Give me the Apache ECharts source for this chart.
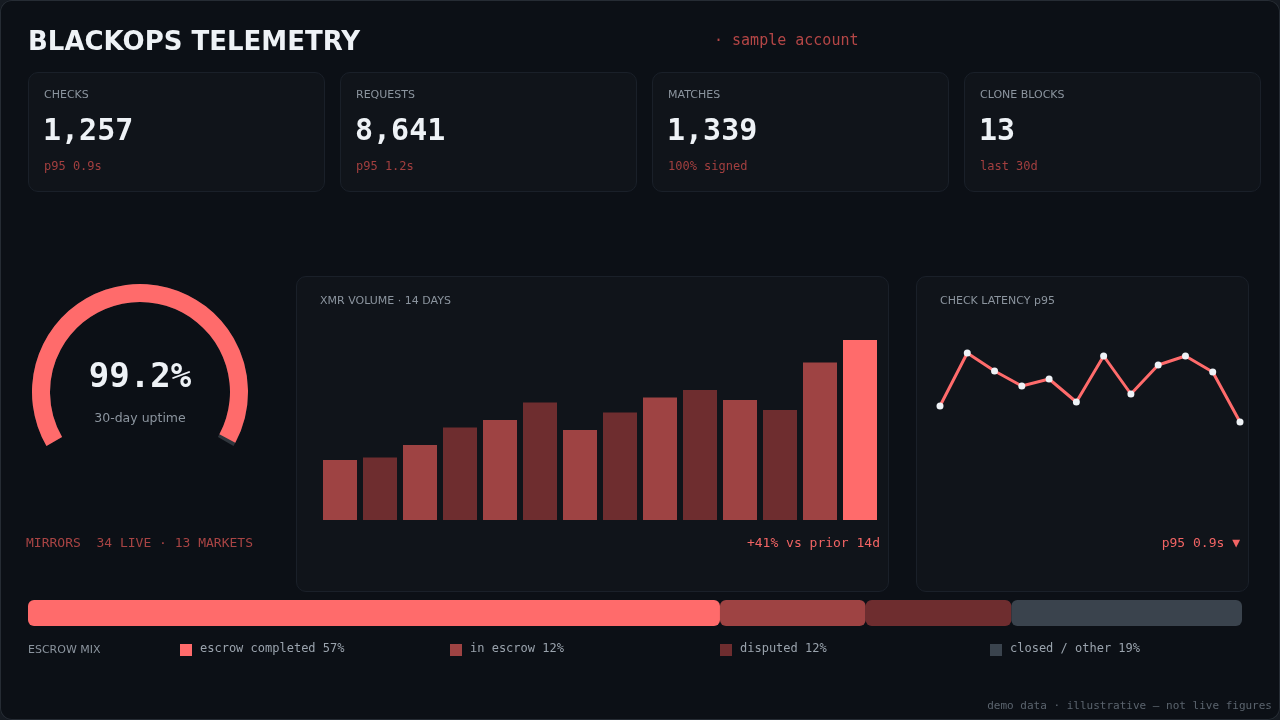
<!DOCTYPE html>
<html lang="en">
<head>
<meta charset="UTF-8">
<title>Blackops Telemetry</title>
<script src="https://cdn.jsdelivr.net/npm/echarts@6/dist/echarts.min.js"></script>
<style>
  html, body { margin:0; padding:0; background:#161b22; }
  #frame { position:absolute; left:0; top:0; width:1280px; height:720px; box-shadow:inset 0 0 0 1px #262c34; border-radius:12px; background:#0c1016; overflow:hidden; }
  .abs { position:absolute; white-space:nowrap; }
  .panel { position:absolute; background:#10141a; border:1px solid #1a2029; border-radius:10px; box-sizing:border-box; }
  .lbl { font-family:"DejaVu Sans", sans-serif; font-size:11px; color:#8b949e; }
  .mono { font-family:"DejaVu Sans Mono", monospace; }
  .kval { font-family:"DejaVu Sans Mono", monospace; font-weight:bold; font-size:30px; color:#eef2f6; }
  .knote { font-family:"DejaVu Sans Mono", monospace; font-size:12px; color:#a23f3f; }
  .sw { position:absolute; width:12px; height:12px; }
  #chart { position:absolute; left:0; top:0; width:1280px; height:720px; z-index:1; }
  .top { z-index:2; }
</style>
</head>
<body>
<div id="frame">
  <div class="abs top" style="left:28px;top:26px;font-family:'DejaVu Sans',sans-serif;font-weight:bold;font-size:26px;color:#eef2f6;">BLACKOPS TELEMETRY</div>
  <div class="abs top mono" style="left:714px;top:31px;font-size:15px;color:#b44646;">· sample account</div>

  <div id="kpis"></div>

  <!-- chart panels -->
  <div class="panel" style="left:296px;top:276px;width:593px;height:316px;"></div>
  <div class="panel" style="left:916px;top:276px;width:333px;height:316px;"></div>

  <div class="abs top lbl" style="left:320px;top:294px;">XMR VOLUME · 14 DAYS</div>
  <div class="abs top lbl" style="left:940px;top:294px;">CHECK LATENCY p95</div>
  <div class="abs top mono" style="right:400px;top:535px;font-size:13px;color:#f26464;">+41% vs prior 14d</div>
  <div class="abs top mono" style="right:40px;top:535px;font-size:13px;color:#f26464;">p95 0.9s ▼</div>
  <div class="abs top mono" style="left:26px;top:535px;font-size:13px;color:#a84444;">MIRRORS&nbsp;&nbsp;34 LIVE · 13 MARKETS</div>

  <div class="abs top lbl" style="left:28px;top:643px;">ESCROW MIX</div>
  <div id="legend"></div>

  <div class="abs top mono" style="right:8px;top:699px;font-size:11px;color:#5b646e;">demo data · illustrative — not live figures</div>

  <div id="chart"></div>
</div>

<script type="text/javascript">
// KPI cards
var kpiLabels = ['CHECKS', 'REQUESTS', 'MATCHES', 'CLONE BLOCKS'];
var kpiValues = ['1,257', '8,641', '1,339', '13'];
var kpiNotes = ['p95 0.9s', 'p95 1.2s', '100% signed', 'last 30d'];

// uptime gauge
var uptime = 99.2;

// 14 day volume
var volumeDays = ['d1','d2','d3','d4','d5','d6','d7','d8','d9','d10','d11','d12','d13','d14'];
var volumeValues = [24, 25, 30, 37, 40, 47, 36, 43, 49, 52, 48, 44, 63, 72];

// latency p95 (seconds)
var latencyPoints = ['1','2','3','4','5','6','7','8','9','10','11','12'];
var latencyValues = [1.14, 1.67, 1.49, 1.34, 1.41, 1.18, 1.64, 1.26, 1.55, 1.64, 1.48, 0.98];

// escrow mix
var escrowNames = ['escrow completed', 'in escrow', 'disputed', 'closed / other'];
var escrowShares = [57, 12, 12, 19];
var escrowColors = ['#ff6b6b', '#9e4343', '#6e2d2f', '#3a434d'];

var RED = '#ff6b6b', RED_MID = '#9e4343', RED_DARK = '#6e2d2f';

// build cards
var kpiHtml = '';
for (var i = 0; i < kpiLabels.length; i++) {
  var x = 28 + i * 312;
  kpiHtml += '<div class="panel" style="left:' + x + 'px;top:72px;width:297px;height:120px;"></div>';
  kpiHtml += '<div class="abs top lbl" style="left:' + (x + 16) + 'px;top:88px;">' + kpiLabels[i] + '</div>';
  kpiHtml += '<div class="abs top kval" style="left:' + (x + 15) + 'px;top:112px;">' + kpiValues[i] + '</div>';
  kpiHtml += '<div class="abs top knote" style="left:' + (x + 16) + 'px;top:159px;">' + kpiNotes[i] + '</div>';
}
document.getElementById('kpis').innerHTML = kpiHtml;

// legend
var legHtml = '';
for (var j = 0; j < escrowNames.length; j++) {
  var lx = 180 + j * 270;
  legHtml += '<div class="sw top" style="left:' + lx + 'px;top:644px;background:' + escrowColors[j] + ';"></div>';
  legHtml += '<div class="abs top mono" style="left:' + (lx + 20) + 'px;top:641px;font-size:12px;color:#9aa3ad;">' + escrowNames[j] + ' ' + escrowShares[j] + '%</div>';
}
document.getElementById('legend').innerHTML = legHtml;

var chart = echarts.init(document.getElementById('chart'), null, {renderer: 'canvas'});

var escrowSeries = escrowShares.map(function (v, k) {
  return {
    type: 'bar', stack: 'mix', xAxisIndex: 2, yAxisIndex: 2,
    barWidth: 26, silent: true,
    itemStyle: {color: escrowColors[k], borderRadius: 6},
    data: [v]
  };
});

var option = {
  backgroundColor: 'transparent',
  animation: false,
  grid: [
    {left: 320, top: 320, width: 560, height: 200},
    {left: 940, top: 320, width: 300, height: 200},
    {left: 28, top: 600, width: 1214, height: 26}
  ],
  xAxis: [
    {gridIndex: 0, type: 'category', data: volumeDays, show: false},
    {gridIndex: 1, type: 'category', data: latencyPoints, boundaryGap: false, show: false},
    {gridIndex: 2, type: 'value', min: 0, max: 100, show: false}
  ],
  yAxis: [
    {gridIndex: 0, type: 'value', min: 0, max: 80, show: false},
    {gridIndex: 1, type: 'value', min: 0, max: 2, show: false},
    {gridIndex: 2, type: 'category', data: ['mix'], show: false}
  ],
  series: [
    {
      type: 'gauge',
      center: [140, 392],
      radius: 108,
      startAngle: 210,
      endAngle: -30,
      min: 0, max: 100,
      progress: {show: true, width: 18, itemStyle: {color: RED}},
      axisLine: {lineStyle: {width: 18, color: [[1, '#30363d']]}},
      pointer: {show: false},
      axisTick: {show: false},
      splitLine: {show: false},
      axisLabel: {show: false},
      anchor: {show: false},
      title: {offsetCenter: [0, 27], color: '#8b949e', fontSize: 12.5, fontFamily: 'DejaVu Sans'},
      detail: {
        offsetCenter: [0, -14], formatter: '{value}%',
        color: '#eef2f6', fontSize: 34, fontWeight: 'bold', fontFamily: 'DejaVu Sans Mono'
      },
      data: [{value: uptime, name: '30-day uptime'}]
    },
    {
      type: 'bar', xAxisIndex: 0, yAxisIndex: 0,
      barWidth: 34,
      data: volumeValues.map(function (v, k) {
        var c = k === volumeValues.length - 1 ? RED : (k % 2 === 0 ? RED_MID : RED_DARK);
        return {value: v, itemStyle: {color: c}};
      })
    },
    {
      type: 'line', xAxisIndex: 1, yAxisIndex: 1,
      data: latencyValues,
      symbol: 'circle', symbolSize: 7,
      itemStyle: {color: '#eef2f6'},
      lineStyle: {color: RED, width: 3}
    }
  ].concat(escrowSeries)
};
chart.setOption(option);
</script>
</body>
</html>
